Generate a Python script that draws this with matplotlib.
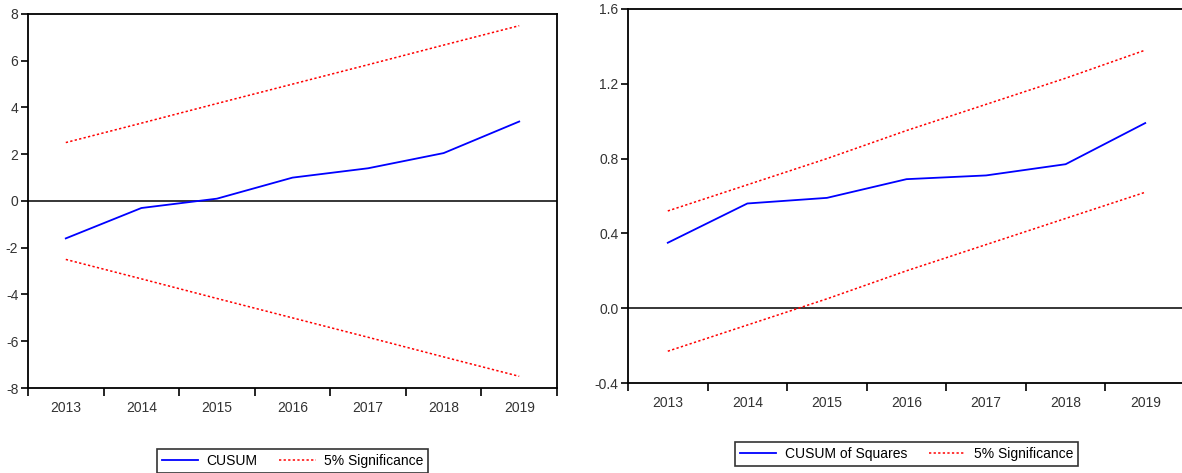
import matplotlib.pyplot as plt
import numpy as np

years = ["2013", "2014", "2015", "2016", "2017", "2018", "2019"]

# CUSUM panel
cusum = [-1.6, -0.3, 0.1, 1.0, 1.4, 2.05, 3.4]
cusum_upper = [2.5, 3.33, 4.17, 5.0, 5.83, 6.67, 7.5]
cusum_lower = [-2.5, -3.33, -4.17, -5.0, -5.83, -6.67, -7.5]

# CUSUM of squares panel
cusumsq = [0.35, 0.56, 0.59, 0.69, 0.71, 0.77, 0.99]
cusumsq_upper = [0.52, 0.66, 0.80, 0.95, 1.09, 1.23, 1.38]
cusumsq_lower = [-0.23, -0.09, 0.05, 0.20, 0.34, 0.48, 0.62]

plt.rcParams['font.family'] = ['Liberation Sans', 'DejaVu Sans']

fig = plt.figure(figsize=(11.82, 4.73), dpi=100)
ax1 = fig.add_axes([28 / 1182, 85 / 473, 529 / 1182, 374 / 473])
ax2 = fig.add_axes([628 / 1182, 90 / 473, 557 / 1182, 374 / 473])

x = np.arange(len(years))
red_dots = (0, (1.5, 1.5))


def style(ax, ylim, yticks, fmt):
    ax.set_xlim(-0.5, len(years) - 0.5)
    ax.set_ylim(*ylim)
    ax.set_yticks(yticks)
    ax.set_yticklabels([fmt.format(v) for v in yticks])
    ax.set_xticks(np.arange(len(years) + 1) - 0.5)
    ax.set_xticklabels([])
    ax.set_xticks(x, minor=True)
    ax.set_xticklabels(years, minor=True)
    ax.tick_params(axis='x', which='major', length=6, width=1.2, direction='out')
    ax.tick_params(axis='x', which='minor', length=0, pad=9, labelsize=10, labelcolor='#333333')
    ax.tick_params(axis='y', length=5, width=1.2, direction='out', pad=2, labelsize=10,
                   labelcolor='#333333')
    for s in ax.spines.values():
        s.set_linewidth(1.3)
    ax.axhline(0, color='black', lw=1.1, zorder=1)


def add_legend(ax, y):
    leg = ax.legend(loc='upper center', bbox_to_anchor=(0.5, y), ncol=2, frameon=True,
                    fancybox=False, edgecolor='black', fontsize=10, handlelength=2.6,
                    columnspacing=1.6, handletextpad=0.6, borderpad=0.35)
    leg.get_frame().set_linewidth(1.2)


ax1.plot(x, cusum, color='blue', lw=1.3, label='CUSUM')
ax1.plot(x, cusum_upper, color='red', lw=1.1, ls=red_dots, label='5% Significance')
ax1.plot(x, cusum_lower, color='red', lw=1.1, ls=red_dots)
style(ax1, (-8, 8), [-8, -6, -4, -2, 0, 2, 4, 6, 8], "{:g}")
add_legend(ax1, -0.145)

ax2.plot(x, cusumsq, color='blue', lw=1.3, label='CUSUM of Squares')
ax2.plot(x, cusumsq_upper, color='red', lw=1.1, ls=red_dots, label='5% Significance')
ax2.plot(x, cusumsq_lower, color='red', lw=1.1, ls=red_dots)
style(ax2, (-0.4, 1.6), [-0.4, 0.0, 0.4, 0.8, 1.2, 1.6], "{:.1f}")
add_legend(ax2, -0.14)

fig.savefig('out.png', dpi=100)
